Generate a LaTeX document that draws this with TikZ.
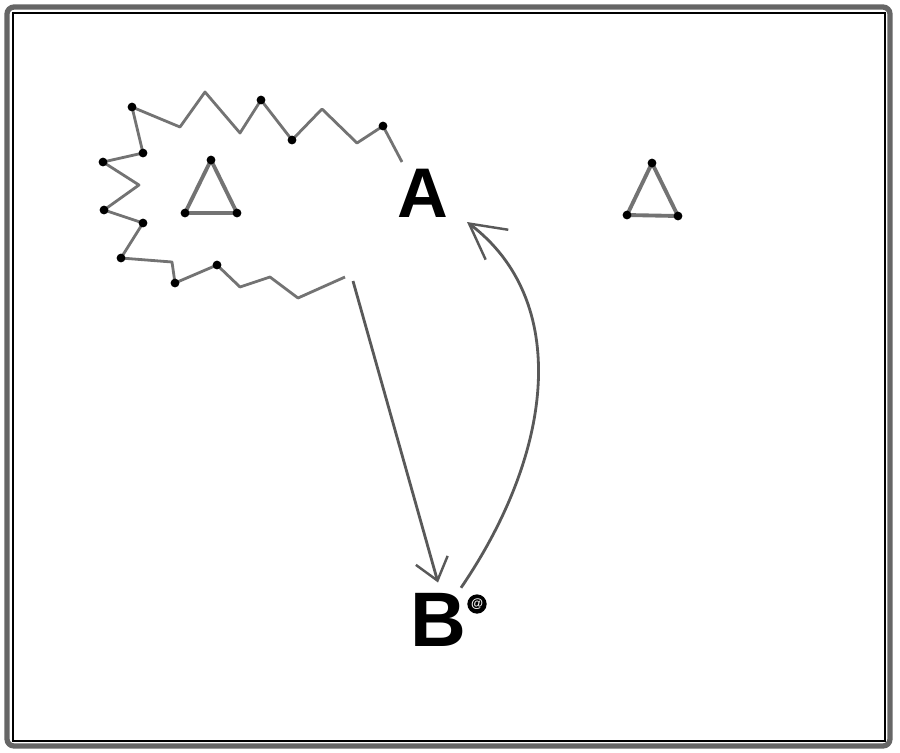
\documentclass[tikz,border=0pt]{standalone}
\usepackage{fontspec}
\setmainfont{Liberation Sans}
\usetikzlibrary{arrows.meta}
\tikzstyle{letter} = [font=\bfseries\fontsize{40}{40}\selectfont, inner sep=0pt]
\tikzstyle{zigline} = [line width=1.6pt, draw=black!55, line join=round]
\tikzstyle{corner} = [fill=black, circle, inner sep=0pt, minimum size=5pt]
\tikzstyle{arrowline} = [line width=1.6pt, draw=black!65]
\tikzstyle{bigbarb} = [-{Straight Barb[length=0.7cm, width=0.75cm, line width=1.4pt]}]
\tikzstyle{smallbarb} = [-{Straight Barb[length=0.42cm, width=0.66cm, line width=1.4pt]}]

\begin{document}
\begin{tikzpicture}[x=0.02cm, y=-0.02cm]
			\useasboundingbox (0,0) rectangle (900,752);
			% frame
			\draw [line width=3pt, black!60, rounded corners=4pt] (7,7) rectangle (890,746);
			\draw [line width=0.8pt] (13,13) rectangle (885,741);

			% letters
			\node (A) [letter] at (423,193) {A};
			\node (B) [letter, font=\bfseries\fontsize{44}{44}\selectfont] at (438,620) {B};
			\node (mark) [circle, fill=black, inner sep=0pt, minimum size=11pt, font=\bfseries\fontsize{7}{7}\selectfont, text=white] at (477,604) {@};

			% left triangle and right triangle
			\draw [zigline, line width=2.2pt] (211,160) -- (185,213) -- (237,213) -- cycle;
			\draw [zigline, line width=2.2pt] (652,163) -- (627,215) -- (678,216) -- cycle;
			\foreach \p in {(211,160),(185,213),(237,213),(652,163),(627,215),(678,216)}
				\node [corner, minimum size=5pt] at \p {};

			% zigzag border
			\draw [zigline] (402,162) -- (383,126) -- (357,143) -- (322,109) -- (292,140) -- (261,100)
				-- (240,133) -- (205,92) -- (180,127) -- (132,107) -- (143,153) -- (103,162)
				-- (139,185) -- (104,210) -- (143,223) -- (121,258) -- (172,262) -- (175,283)
				-- (217,265) -- (240,287) -- (270,277) -- (298,298) -- (345,277);
			\foreach \p in {(383,126),(292,140),(261,100),(132,107),(143,153),(103,162),(104,210),(143,223),(121,258),(175,283),(217,265)}
				\node [corner] at \p {};

			% arrows
			\coordinate (start) at (353,281);
			\coordinate (tip) at (467,222);
			\draw [arrowline, smallbarb] (start) -- ([yshift=6pt]B.north);
			\draw [arrowline, bigbarb] ([xshift=-3pt, yshift=3pt]B.north east) .. controls (555,450) and (570,300) .. (tip);
		\end{tikzpicture}
\end{document}
